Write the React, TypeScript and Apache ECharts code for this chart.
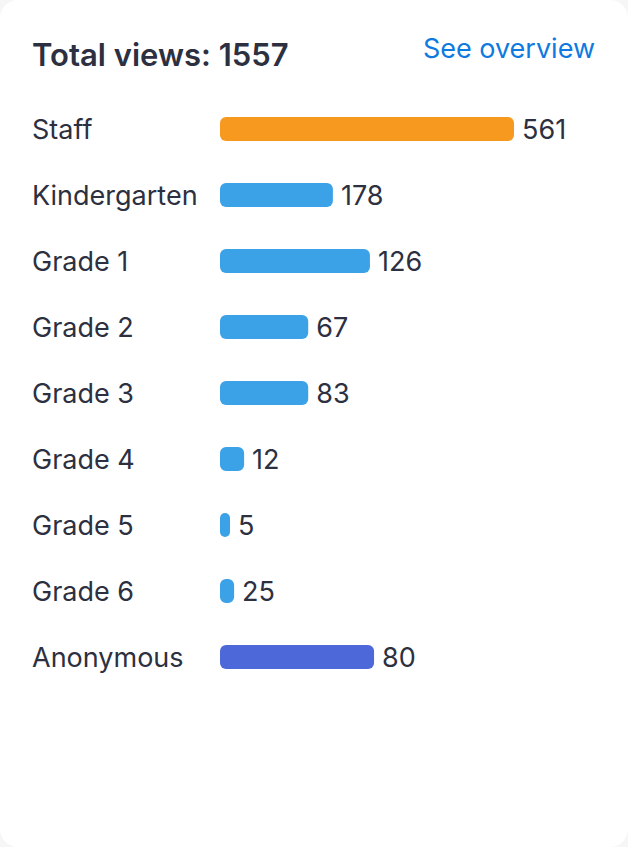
import React, { useEffect, useRef } from "react";
import * as echarts from "echarts";

const categories = ["Staff", "Kindergarten", "Grade 1", "Grade 2", "Grade 3", "Grade 4", "Grade 5", "Grade 6", "Anonymous"];
const viewCounts = [561, 178, 126, 67, 83, 12, 5, 25, 80];
// relative bar lengths as drawn in the picture (percent of the longest bar)
const barLengths = [100, 38.4, 51, 30, 30, 8.2, 3.4, 4.8, 52.4];
const barColors = ["#f7991f", "#3ba2e8", "#3ba2e8", "#3ba2e8", "#3ba2e8", "#3ba2e8", "#3ba2e8", "#3ba2e8", "#4d69d9"];
const totalViews = 1557;

const FONT = "Inter, 'Noto Sans', sans-serif";
const TEXT = "#2c3040";

export default function App() {
  const ref = useRef<HTMLDivElement>(null);
  useEffect(() => {
    if (!ref.current) return;
    const chart = echarts.init(ref.current, undefined, { renderer: "svg" });
    chart.setOption({
      animation: false,
      backgroundColor: "transparent",
      graphic: [
        {
          type: "text",
          left: 32,
          top: 39,
          style: { text: `Total views: ${totalViews}`, font: `600 31px ${FONT}`, fill: TEXT },
        },
        {
          type: "text",
          right: 33,
          top: 35,
          style: { text: "See overview", font: `400 27px ${FONT}`, fill: "#0e7ae0" },
        },
      ],
      grid: { left: 220, width: 294, top: 96, height: 594, containLabel: false },
      xAxis: { type: "value", min: 0, max: 100, show: false },
      yAxis: {
        type: "category",
        data: categories,
        inverse: true,
        axisLine: { show: false },
        axisTick: { show: false },
        splitLine: { show: false },
        axisLabel: {
          align: "left",
          margin: 188,
          color: TEXT,
          fontFamily: FONT,
          fontSize: 27,
        },
      },
      series: [
        {
          type: "bar",
          barWidth: 24,
          data: barLengths.map((v, i) => ({
            value: v,
            itemStyle: { color: barColors[i], borderRadius: 6 },
            label: {
              show: true,
              position: "right",
              distance: 8,
              formatter: () => String(viewCounts[i]),
              color: TEXT,
              fontFamily: FONT,
              fontSize: 27,
            },
          })),
        },
      ],
    });
    return () => chart.dispose();
  }, []);
  return (
    <div
      style={{
        position: "fixed",
        left: 0,
        top: 0,
        width: 628,
        height: 847,
        background: "#f6f6f7",
      }}
    >
      <div
        style={{
          width: 628,
          height: 847,
          borderRadius: 18,
          background: "#fff",
          overflow: "hidden",
        }}
      >
        <div ref={ref} style={{ width: 628, height: 847 }} />
      </div>
    </div>
  );
}
